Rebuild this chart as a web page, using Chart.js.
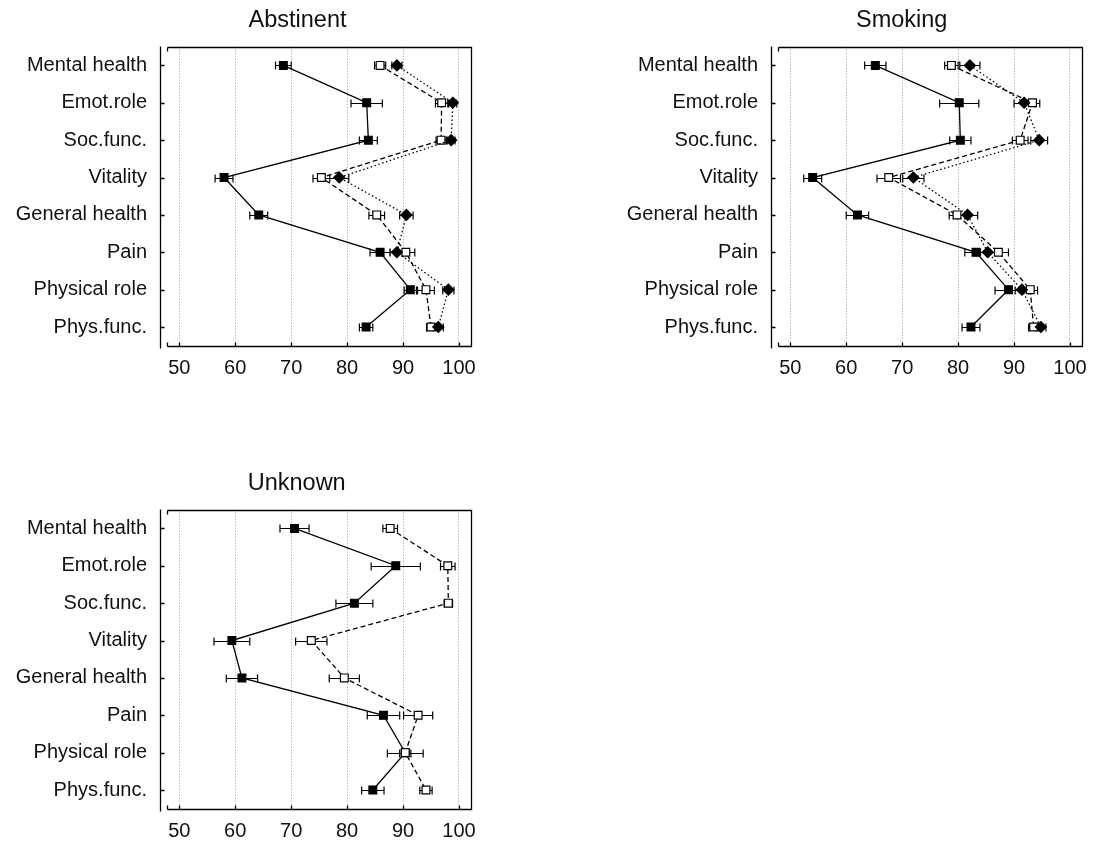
<!DOCTYPE html>
<html>
<head>
<meta charset="utf-8">
<title>Scores by smoking status</title>
<script src="https://cdn.jsdelivr.net/npm/chart.js@4.4.0/dist/chart.umd.min.js"></script>
<style>
  html, body { margin: 0; padding: 0; background: #fff; overflow: hidden; }
  canvas { position: absolute; }
</style>
</head>
<body>
<canvas id="chart_abstinent" width="511" height="380" style="left:0px;top:0px"></canvas>
<canvas id="chart_smoking" width="511" height="380" style="left:611px;top:0px"></canvas>
<canvas id="chart_unknown" width="511" height="380" style="left:0px;top:463px"></canvas>
<script>
// categories (top to bottom) and x ticks
var categories = ['Mental health', 'Emot.role', 'Soc.func.', 'Vitality', 'General health', 'Pain', 'Physical role', 'Phys.func.'];
var x_ticks = [50, 60, 70, 80, 90, 100];

// Abstinent
var abstinent_filled      = [68.6, 83.5, 83.8, 58.0, 64.2, 85.9, 91.3, 83.4];
var abstinent_filled_err  = [1.4, 2.8, 1.6, 1.6, 1.6, 1.8, 1.1, 1.2];
var abstinent_open        = [85.9, 96.9, 96.8, 75.4, 85.3, 90.5, 94.1, 95.0];
var abstinent_open_err    = [1.0, 1.1, 0.9, 1.5, 1.4, 1.6, 1.5, 0.8];
var abstinent_diamond     = [88.9, 98.9, 98.6, 78.6, 90.6, 88.9, 98.1, 96.3];
var abstinent_diamond_err = [0.9, 0.7, 0.7, 1.7, 1.2, 1.25, 1.0, 0.9];

// Smoking
var smoking_filled      = [65.2, 80.2, 80.4, 54.0, 62.0, 83.2, 89.0, 82.3];
var smoking_filled_err  = [1.9, 3.5, 1.9, 1.6, 2.0, 2.0, 2.4, 1.6];
var smoking_open        = [78.8, 93.3, 91.1, 67.6, 79.8, 87.2, 92.9, 93.5];
var smoking_open_err    = [1.2, 1.3, 1.4, 2.1, 1.4, 1.8, 1.3, 0.9];
var smoking_diamond     = [82.1, 91.8, 94.5, 72.0, 81.7, 85.3, 91.4, 94.8];
var smoking_diamond_err = [1.8, 1.8, 1.5, 1.9, 1.8, 1.3, 1.2, 0.9];

// Unknown
var unknown_filled     = [70.6, 88.7, 81.3, 59.4, 61.2, 86.5, 90.4, 84.6];
var unknown_filled_err = [2.6, 4.4, 3.3, 3.2, 2.8, 2.9, 3.2, 2.0];
var unknown_open       = [87.7, 98.0, 98.1, 73.6, 79.5, 92.7, 90.4, 94.1];
var unknown_open_err   = [1.3, 1.3, 0.75, 2.8, 2.7, 2.6, 1.0, 1.1];

var font_family = "'Liberation Sans', Arial, sans-serif";
Chart.defaults.font.family = font_family;

// title, frame, axis line, tick marks and error bars
var frame_plugin = {
  id: 'frame',
  beforeDatasetsDraw: function(chart, args, opts) {
    var ctx = chart.ctx;
    var area = chart.chartArea;
    var xs = chart.scales.x, ys = chart.scales.y;
    var l = Math.round(area.left) + 0.5, r = Math.round(area.right) + 0.5;
    var t = Math.round(area.top) + 0.5, b = Math.round(area.bottom) + 0.5;
    var ax = l - 7;

    ctx.save();
    // panel title
    ctx.fillStyle = '#111';
    ctx.font = '23.5px ' + font_family;
    ctx.textAlign = 'center';
    ctx.textBaseline = 'alphabetic';
    ctx.fillText(opts.text, opts.center, area.top - 19.5);

    ctx.strokeStyle = '#000';
    ctx.lineWidth = 1.3;
    ctx.beginPath();
    // top, right, bottom
    ctx.moveTo(l, t); ctx.lineTo(r, t); ctx.lineTo(r, b); ctx.lineTo(l, b);
    // detached y axis line
    ctx.moveTo(ax, t - 1); ctx.lineTo(ax, b + 2);
    // small end marks
    ctx.moveTo(l, t); ctx.lineTo(l, t + 4);
    ctx.moveTo(l, b); ctx.lineTo(l, b - 4);
    // y ticks
    categories.forEach(function(c, i) {
      var y = Math.round(ys.getPixelForValue(i)) + 0.5;
      ctx.moveTo(ax, y); ctx.lineTo(ax + 4, y);
    });
    // x ticks, pointing up
    x_ticks.forEach(function(v) {
      var x = Math.round(xs.getPixelForValue(v)) + 0.5;
      ctx.moveTo(x, b); ctx.lineTo(x, b - 4);
    });
    ctx.stroke();

    // error bars
    ctx.lineWidth = 1.2;
    ctx.beginPath();
    chart.data.datasets.forEach(function(ds, di) {
      var meta = chart.getDatasetMeta(di);
      ds.errors.forEach(function(e, i) {
        var y = Math.round(meta.data[i].y) + 0.5;
        var x1 = xs.getPixelForValue(ds.data[i] - e);
        var x2 = xs.getPixelForValue(ds.data[i] + e);
        ctx.moveTo(x1, y); ctx.lineTo(x2, y);
        ctx.moveTo(x1, y - 4); ctx.lineTo(x1, y + 4);
        ctx.moveTo(x2, y - 4); ctx.lineTo(x2, y + 4);
      });
    });
    ctx.stroke();
    ctx.restore();
  }
};

function series(values, errors, kind) {
  var ds = {
    data: values,
    errors: errors,
    borderColor: '#000',
    borderWidth: 1.3,
    tension: 0,
    pointBorderColor: '#000',
    pointBorderWidth: 1.2,
    pointRadius: 5.5,
    pointStyle: 'rect',
    pointBackgroundColor: '#000'
  };
  if (kind === 'open') {
    ds.borderDash = [5, 3];
    ds.pointBackgroundColor = '#fff';
  }
  if (kind === 'diamond') {
    ds.borderDash = [1.5, 2.5];
    ds.pointStyle = 'rectRot';
  }
  return ds;
}

function make_chart(canvas_id, title_text, title_center, datasets) {
  var config = {
    type: 'line',
    data: { labels: categories, datasets: datasets },
    options: {
      indexAxis: 'y',
      responsive: false,
      animation: false,
      layout: { padding: { left: 0, right: 40, top: 46.7, bottom: 0 } },
      plugins: {
        legend: { display: false },
        tooltip: { enabled: false },
        title: { display: false },
        frame: { text: title_text, center: title_center }
      },
      scales: {
        x: {
          type: 'linear',
          min: 47.8,
          max: 102.15,
          afterBuildTicks: function(scale) {
            scale.ticks = x_ticks.map(function(v) { return { value: v }; });
          },
          afterFit: function(scale) { scale.height = 34.3; },
          grid: { color: '#9a9a9a', lineWidth: 1, drawTicks: false },
          border: { display: false, dash: [1, 2] },
          ticks: { padding: 11, color: '#111', font: { size: 20 } }
        },
        y: {
          type: 'category',
          offset: true,
          afterFit: function(scale) { scale.width = 167; },
          grid: { display: false, drawTicks: false },
          border: { display: false },
          ticks: { padding: 20, color: '#111', font: { size: 20 }, autoSkip: false }
        }
      }
    },
    plugins: [frame_plugin]
  };
  var ctx = document.getElementById(canvas_id).getContext('2d');
  return new Chart(ctx, config);
}

make_chart('chart_abstinent', 'Abstinent', 297.5, [
  series(abstinent_diamond, abstinent_diamond_err, 'diamond'),
  series(abstinent_open, abstinent_open_err, 'open'),
  series(abstinent_filled, abstinent_filled_err, 'filled')
]);

make_chart('chart_smoking', 'Smoking', 290.7, [
  series(smoking_diamond, smoking_diamond_err, 'diamond'),
  series(smoking_open, smoking_open_err, 'open'),
  series(smoking_filled, smoking_filled_err, 'filled')
]);

make_chart('chart_unknown', 'Unknown', 296.7, [
  series(unknown_open, unknown_open_err, 'open'),
  series(unknown_filled, unknown_filled_err, 'filled')
]);
</script>
</body>
</html>
